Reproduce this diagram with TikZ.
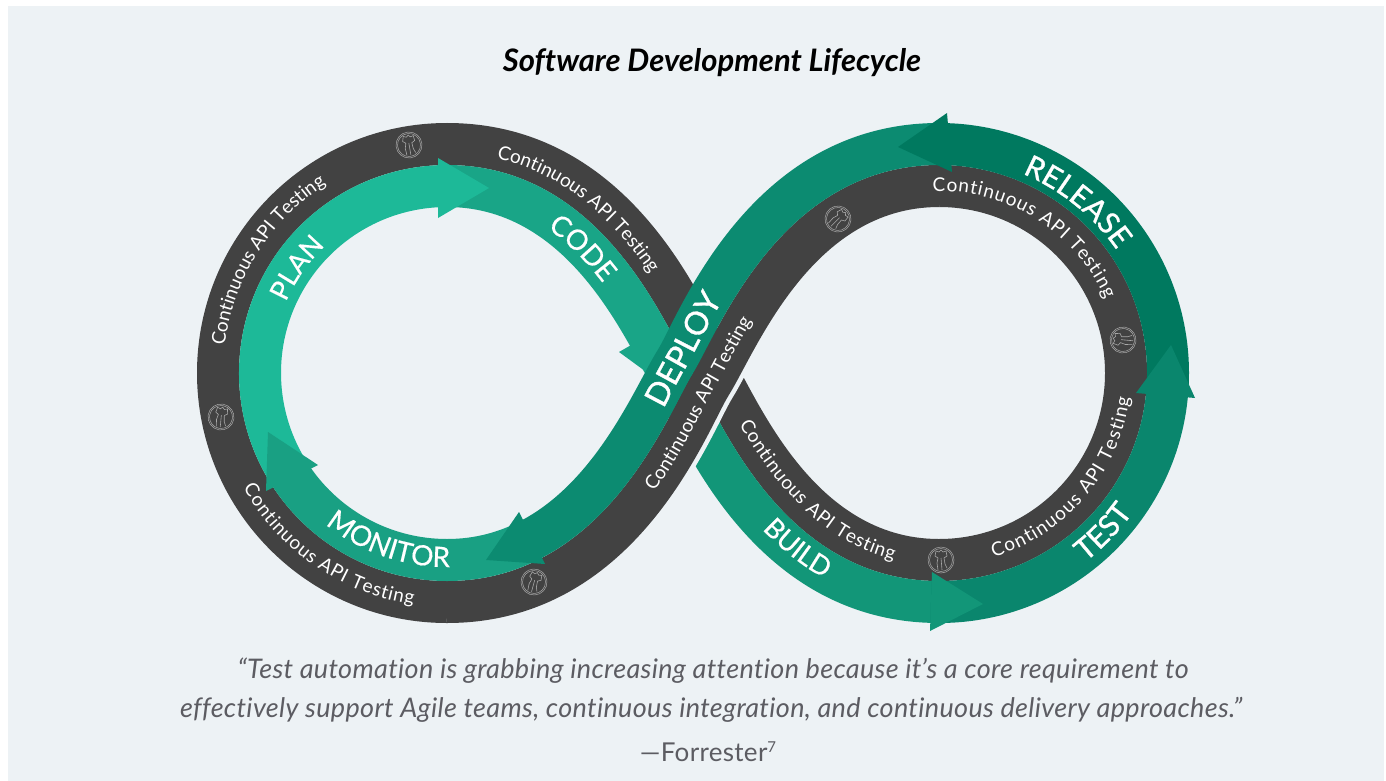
\documentclass[tikz,border=0pt]{standalone}
\usepackage{fontspec}
\usetikzlibrary{decorations.text}
\setmainfont[Ligatures=CommonOff]{Lato}
\newfontfamily\labelfont[FakeBold=0.5]{Lato}
\newfontfamily\strongfont[FakeBold=1]{Lato}
\newfontfamily\quotefont[LetterSpace=1.2,Ligatures=CommonOff]{Lato}
\newcommand{\thinlabel}{\labelfont\fontsize{27}{30}\selectfont}
\newcommand{\widelabel}{\labelfont\fontsize{28}{30}\selectfont}
\newcommand{\boldlabel}{\strongfont\fontsize{30}{32}\selectfont}
\definecolor{panelclr}{HTML}{EDF2F5}
\definecolor{darkclr}{HTML}{424242}
\definecolor{planclr}{HTML}{1DB998}
\definecolor{codeclr}{HTML}{19A587}
\definecolor{buildclr}{HTML}{129678}
\definecolor{testclr}{HTML}{0A866D}
\definecolor{releaseclr}{HTML}{00795F}
\definecolor{deployclr}{HTML}{0C8B71}
\definecolor{monitorclr}{HTML}{19A083}
\definecolor{quoteclr}{HTML}{5C5C62}
\definecolor{iconclr}{HTML}{A8A8A8}
\tikzset{
  apitext/.style={postaction={decorate},decoration={text along path,text align={#1},
    text={|\fontsize{19}{22}\selectfont\color{white}|Continuous API Testing}}},
  steptext/.style n args={3}{postaction={decorate},decoration={text along path,text align={#1},
    text={|#2\color{white}|#3}}},
  apiicon/.pic={
    \draw[iconclr,line width=0.5pt] (0,0) circle (13) (0,0) circle (11.5);
    \draw[iconclr,line width=0.6pt] (-3,10) -- (-4,3) -- (-3,-2) -- (-6,-4) -- (-5,-9) -- (-2,-8) -- (0,-10) -- (2,-8) -- (5,-9) -- (6,-4) -- (3,-2) -- (4,4) -- (6,8) (0,-2) -- (1,10);
  }
}
\begin{document}
\begin{tikzpicture}[x=1pt,y=-1pt]
  \useasboundingbox (0,0) rectangle (1386,781);
  \fill[panelclr] (8,6) rectangle (1384,781);
  \coordinate (lc) at (447,373);
  \coordinate (rc) at (939,373);
  % dark rings
  \fill[darkclr] ([shift=(lc)]90:250) arc[start angle=90,end angle=270,radius=250] -- ([shift=(lc)]270:208) arc[start angle=270,end angle=90,radius=208] -- cycle;
  \fill[darkclr] ([shift=(rc)]-90:208) arc[start angle=-90,end angle=90,radius=208] -- ([shift=(rc)]90:166) arc[start angle=90,end angle=-90,radius=166] -- cycle;
  % first strand
  \fill[darkclr] (447,123) .. controls (637.3,123) and (707.2,316.7) .. (728.7,350.7) .. controls (756.2,394.9) and (811.3,539) .. (939,539) -- (939,581) .. controls (780,581) and (717.5,412.1) .. (693,373) .. controls (668.5,333.9) and (606,165) .. (447,165) -- cycle;
  \fill[codeclr] (447,165) .. controls (606,165) and (668.5,333.9) .. (693,373) -- (657.3,395.3) .. controls (629.8,351.1) and (574.7,207) .. (447,207) -- cycle;
  \fill[codeclr] (619,352) -- (660,382) -- (640,340) -- cycle;
  \fill[buildclr] (693,373) .. controls (717.5,412.1) and (780,581) .. (939,581) -- (939,623) .. controls (748.7,623) and (678.8,429.3) .. (657.3,395.3) -- cycle;
  % gap beside second strand
  \draw[panelclr,line width=9pt] (939,207) .. controls (811.3,207) and (756.2,351.1) .. (728.7,395.3) .. controls (707.2,429.3) and (637.3,623) .. (447,623);
  % second strand
  \fill[darkclr] (939,165) .. controls (780,165) and (717.5,333.9) .. (693,373) .. controls (668.5,412.1) and (606,581) .. (447,581) -- (447,623) .. controls (637.3,623) and (707.2,429.3) .. (728.7,395.3) .. controls (756.2,351.1) and (811.3,207) .. (939,207) -- cycle;
  % phases
  \fill[planclr] ([shift=(lc)]147:208) arc[start angle=147,end angle=268,radius=208] -- ([shift=(lc)]268:166) arc[start angle=268,end angle=147,radius=166] -- cycle;
  \fill[planclr] (438,158) -- (489,188) -- (438,218) -- cycle;
  \fill[monitorclr] (521.2,520.6) .. controls (499.7,532) and (475.1,539) .. (447,539) arc[start angle=90,end angle=148,radius=166] -- ([shift=(lc)]148:208) arc[start angle=148,end angle=90,radius=208] .. controls (482,581) and (512.3,572.8) .. (538.6,559.5) -- cycle;
  \fill[monitorclr] (266,491) -- (268,432) -- (318,465) -- cycle;
  \fill[testclr] ([shift=(rc)]92:208) arc[start angle=92,end angle=4,radius=208] -- ([shift=(rc)]4:250) arc[start angle=4,end angle=92,radius=250] -- cycle;
  \fill[buildclr] (932,572) -- (983,604) -- (930,631) -- cycle;
  \fill[releaseclr] ([shift=(rc)]5:208) arc[start angle=5,end angle=-88,radius=208] -- ([shift=(rc)]-88:250) arc[start angle=-88,end angle=5,radius=250] -- cycle;
  \fill[testclr] (1136,393) -- (1171,345) -- (1195,398) -- cycle;
  \fill[deployclr] (939,123) .. controls (748.7,123) and (678.8,316.7) .. (657.3,350.7) .. controls (635.85,385.2) and (597.6,480.4) .. (521.2,520.6) -- (538.6,559.5) .. controls (631.7,513) and (673.9,403.5) .. (693,373) .. controls (717.5,333.9) and (780,165) .. (939,165) -- cycle;
  \fill[deployclr] (519,512) -- (486,560) -- (545,564) -- cycle;
  \fill[releaseclr] (947,113) -- (898,147) -- (952,172) -- cycle;
  % icons
  \pic[rotate=5] at (409,145) {apiicon};
  \pic[rotate=-10] at (221,417) {apiicon};
  \pic[rotate=-20] at (534,582) {apiicon};
  \pic[rotate=-50] at (838,219) {apiicon};
  \pic[rotate=80] at (1123,340) {apiicon};
  \pic at (941,560) {apiicon};
  % band texts
  \path[apitext={fit to path}] ([shift=(lc)]187:224) arc[start angle=187,end angle=236.5,radius=224];
  \path[apitext={fit to path}] ([shift=(lc)]150.6:234) arc[start angle=150.6,end angle=98.3,radius=234];
  \path[apitext={fit to path}] ([shift=(rc)]268:182) arc[start angle=268,end angle=336,radius=182];
  \path[apitext={fit to path}] ([shift=(rc)]73.5:192) arc[start angle=73.5,end angle=7.3,radius=192];
  \path[apitext={left indent=50pt}] (447,153) .. controls (614.9,153) and (679.5,329) .. (703.2,366.6);
  \path[apitext={fit to path,left indent=68pt,right indent=46pt}] (706.6,364.5) .. controls (732.2,405.5) and (791.9,565) .. (939,565);
  \path[apitext={left indent=247pt}] (447,607) .. controls (625.4,607) and (692.4,422.7) .. (715.1,386.8) .. controls (741.4,344.5) and (799.4,191) .. (939,191);
  % phase names
  \path[steptext={center}{\thinlabel}{PLAN}] ([shift=(lc)]185:176) arc[start angle=185,end angle=245,radius=176];
  \path[steptext={center}{\widelabel}{MONITOR}] ([shift=(lc)]149:194) arc[start angle=149,end angle=69,radius=194];
  \path[steptext={center}{\boldlabel}{RELEASE}] ([shift=(rc)]269:216) arc[start angle=269,end angle=349,radius=216];
  \path[steptext={center}{\boldlabel}{TEST}] ([shift=(rc)]74:239) arc[start angle=74,end angle=14,radius=239];
  \path[steptext={left indent=107pt}{\widelabel}{CODE}] (447,196) .. controls (582.9,196) and (640,346.6) .. (666.6,389.4);
  \path[steptext={left indent=170pt}{\thinlabel}{BUILD}] (670,387.3) .. controls (692.6,423.2) and (759.9,608) .. (939,608);
  \path[steptext={left indent=286pt}{\strongfont\fontsize{32}{34}\selectfont}{DEPLOY}] (447,572) .. controls (599.3,572) and (660.2,408.4) .. (685.35,368.2) .. controls (709.2,330.2) and (773.3,156) .. (939,156);
  % title and quote
  \node (title) at (712,63) {\fontsize{31}{36}\selectfont\bfseries\itshape Software Development Lifecycle};
  \node[text=quoteclr] (quote1) at (713,671) {\quotefont\fontsize{27}{30}\selectfont\itshape “Test automation is grabbing increasing attention because it’s a core requirement to};
  \node[text=quoteclr] (quote2) at (711,710) {\quotefont\fontsize{27}{30}\selectfont\itshape effectively support Agile teams, continuous integration, and continuous delivery approaches.”};
  \node[text=quoteclr] (source) at (708,752) {\quotefont\fontsize{26}{30}\selectfont —Forrester\raisebox{9pt}{\fontsize{15}{15}\selectfont 7}};
\end{tikzpicture}
\end{document}
